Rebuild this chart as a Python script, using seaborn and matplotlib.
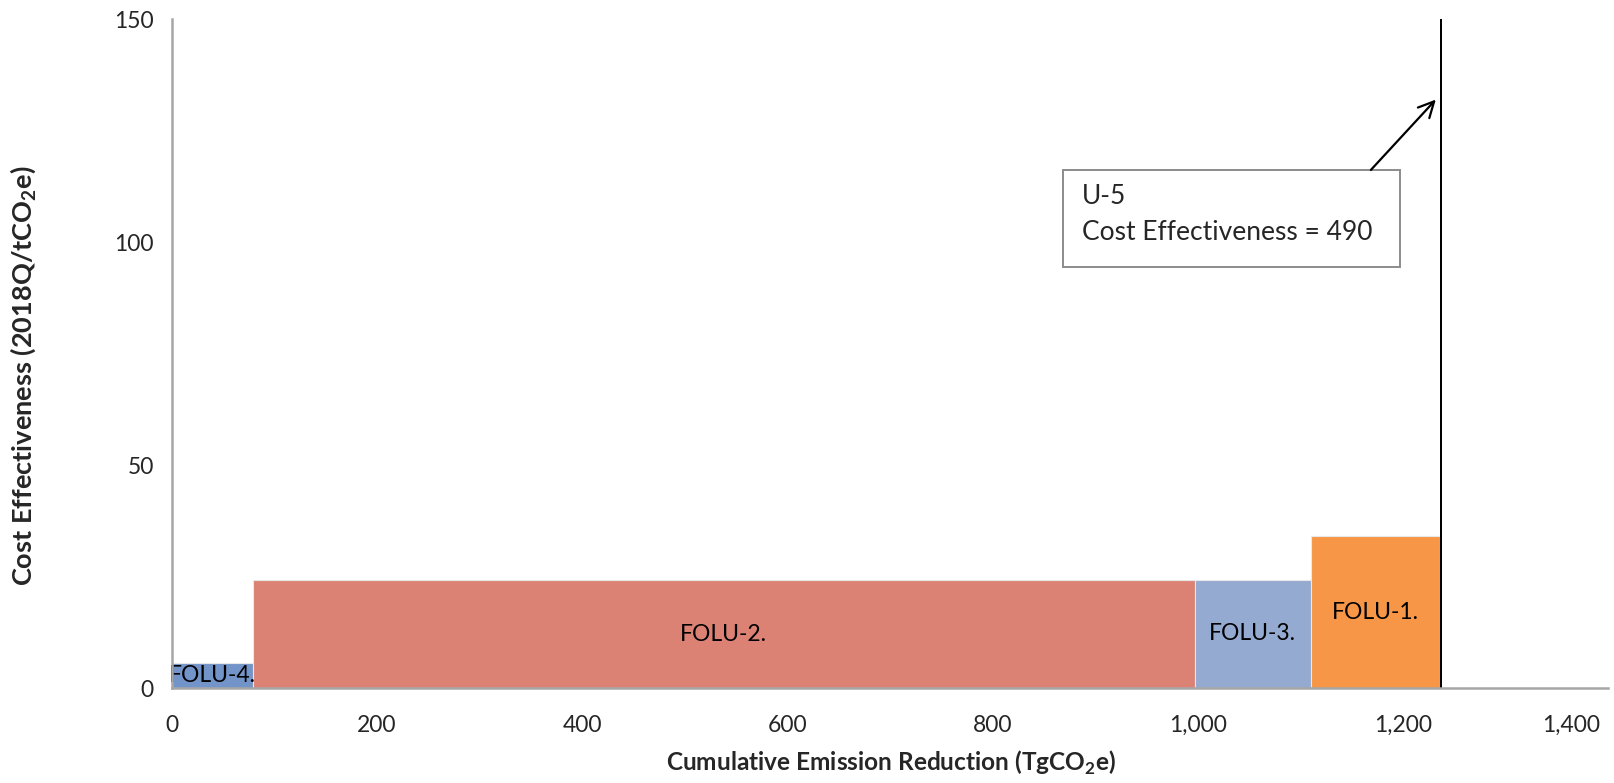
import matplotlib
matplotlib.use("Agg")
import matplotlib.pyplot as plt
import matplotlib.transforms as mtransforms
import numpy as np
import seaborn as sns

# Marginal abatement cost curve data
measures = ["FOLU-4.", "FOLU-2.", "FOLU-3.", "FOLU-1.", "U-5"]
reductions = [79, 918, 113, 126, 2]          # TgCO2e per measure
cost_eff = [5.7, 24.3, 24.4, 34.1, 490]      # 2018Q/tCO2e
colors = ["#7294c9", "#dc8274", "#95aad1", "#f79646", "#000000"]
x_ticks = [0, 200, 400, 600, 800, 1000, 1200, 1400]
y_ticks = [0, 50, 100, 150]

sns.set_style("white")
plt.rcParams["font.family"] = ["Lato", "DejaVu Sans"]

fig = plt.figure(figsize=(16.14, 7.83), dpi=100)
ax = fig.add_axes([0.1064, 0.1209, 0.8899, 0.8542])

lefts = np.concatenate([[0], np.cumsum(reductions)[:-1]])
for name, left, w, h, c in zip(measures, lefts, reductions, cost_eff, colors):
    if name == "U-5":
        ax.bar(left, h, width=w, align="edge", color=c, linewidth=0,
               zorder=3)
    else:
        ax.bar(left, h, width=w, align="edge", color=c, edgecolor="#e8e8e8",
               linewidth=0.8, zorder=2)
        ax.text(left + w / 2, h / 2, name, ha="center", va="center",
                fontsize=16.5, color="#000000", zorder=4)

ax.set_xlim(0, 1400)
ax.set_ylim(0, 150)
ax.set_xticks(x_ticks)
ax.set_xticklabels([f"{v:,}" for v in x_ticks])
ax.set_yticks(y_ticks)

sns.despine(ax=ax)
for side in ["left", "bottom"]:
    ax.spines[side].set_color("#a6a6a6")
    ax.spines[side].set_linewidth(1.8)
    ax.spines[side].set_zorder(5)

ax.tick_params(axis="x", direction="inout", length=14, width=1.8,
               color="#a6a6a6", labelsize=16.5, pad=12)
ax.tick_params(axis="y", direction="out", length=7, width=1.8,
               color="#a6a6a6", labelsize=16.5, pad=6)

# keep the last x tick label inside the figure
last = ax.get_xticklabels()[-1]
last.set_horizontalalignment("right")
last.set_transform(last.get_transform() +
                   mtransforms.ScaledTranslation(-0.08, 0, fig.dpi_scale_trans))

ax.set_xlabel("Cumulative Emission Reduction (TgCO$_\\mathregular{2}$e)",
              fontsize=17.6, fontweight="bold", va="center")
ax.xaxis.set_label_coords(0.5008, -0.1117)
ax.set_ylabel("Cost Effectiveness (2018Q/tCO$_\\mathregular{2}$e)",
              fontsize=19.5, fontweight="bold", va="center")
ax.yaxis.set_label_coords(-0.1035, 0.468)

# Callout for the off-scale measure
ax.annotate("", xy=(1234, 132.5), xytext=(1167, 115.8),
            arrowprops=dict(arrowstyle="->", color="black", lw=1.6,
                            mutation_scale=28),
            zorder=6)
box = plt.Rectangle((868.5, 94.5), 328.3, 21.7, facecolor="white",
                    edgecolor="#8c8c8c", linewidth=1.4, zorder=5)
ax.add_patch(box)
ax.text(887, 110.4, "U-5", fontsize=19, va="center", ha="left", zorder=6)
ax.text(887, 102.3, "Cost Effectiveness = 490", fontsize=19,
        va="center", ha="left", zorder=6)

fig.savefig("out.png", dpi=100, facecolor="white")
